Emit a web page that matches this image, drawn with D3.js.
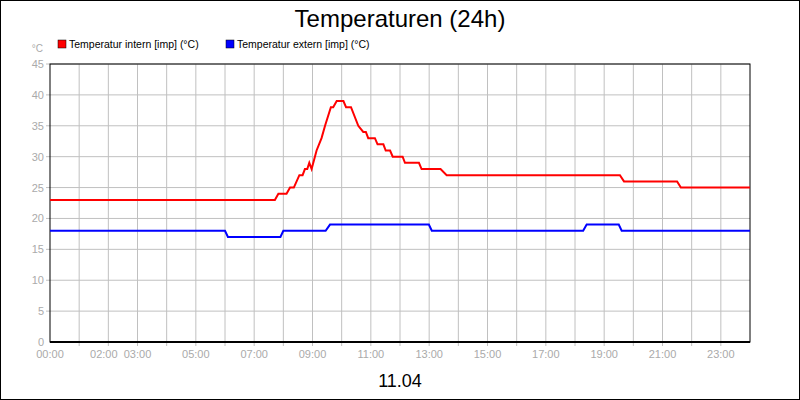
<!DOCTYPE html>
<html><head><meta charset="utf-8">
<script src="https://cdn.jsdelivr.net/npm/d3@7"></script>
<style>body{margin:0;background:#fff}svg{display:block;font-family:"Liberation Sans",Arial,sans-serif}</style>
</head><body><div id="chart"></div>
<script>
// time in decimal hours, values in °C
const internTimes = [0, 7.71, 7.83, 8.11, 8.23, 8.36, 8.55, 8.66, 8.74, 8.82, 8.89, 8.97, 9.14, 9.31, 9.43, 9.63, 9.71, 9.83, 10.06, 10.15, 10.32, 10.57, 10.74, 10.83, 10.91, 11.14, 11.23, 11.43, 11.51, 11.66, 11.75, 12.09, 12.17, 12.65, 12.74, 13.39, 13.6, 19.54, 19.68, 21.5, 21.63, 24];
const internValues = [23, 23, 24, 24, 25, 25, 27, 27, 28, 28, 29, 28, 31, 33, 35, 38, 38, 39, 39, 38, 38, 35, 34, 34, 33, 33, 32, 32, 31, 31, 30, 30, 29, 29, 28, 28, 27, 27, 26, 26, 25, 25];
const externTimes = [0, 6.0, 6.1, 7.9, 8.0, 9.45, 9.6, 12.99, 13.09, 18.28, 18.4, 19.5, 19.6, 24];
const externValues = [18, 18, 17, 17, 18, 18, 19, 19, 18, 18, 19, 19, 18, 18];
const xTickHours = [0, 2, 3, 5, 7, 9, 11, 13, 15, 17, 19, 21, 23];
const xTickLabels = ["00:00", "02:00", "03:00", "05:00", "07:00", "09:00", "11:00", "13:00", "15:00", "17:00", "19:00", "21:00", "23:00"];
const yTicks = [0, 5, 10, 15, 20, 25, 30, 35, 40, 45];

const width = 800, height = 400;
const x = d3.scaleLinear().domain([0, 24]).range([50, 750]);
const y = d3.scaleLinear().domain([0, 45]).range([342, 64]);

const svg = d3.select('#chart').append('svg').attr('width', width).attr('height', height);
svg.append('rect').attr('x', 0.5).attr('y', 0.5).attr('width', width - 1).attr('height', height - 1)
   .attr('fill', '#fff').attr('stroke', '#000');

svg.append('text').attr('x', 400).attr('y', 27).attr('text-anchor', 'middle')
   .attr('font-size', 24).text('Temperaturen (24h)');

// grid
const grid = svg.append('g').attr('stroke', '#c0c0c0');
grid.selectAll('.v').data(d3.range(1, 24)).join('line')
    .attr('x1', d => x(d)).attr('x2', d => x(d)).attr('y1', y(45)).attr('y2', y(0) + 4);
grid.selectAll('.h').data(yTicks.slice(1)).join('line')
    .attr('x1', x(0) - 4).attr('x2', x(24)).attr('y1', d => y(d)).attr('y2', d => y(d));

// y labels
svg.append('g').attr('font-size', 11).attr('fill', '#aaa').attr('text-anchor', 'end')
   .selectAll('text').data(yTicks).join('text')
   .attr('x', x(0) - 6).attr('y', d => y(d) + 4).text(d => d);
svg.append('text').attr('x', 43).attr('y', 52).attr('font-size', 10).attr('fill', '#aaa')
   .attr('text-anchor', 'end').text('°C');

// x labels
svg.append('g').attr('font-size', 11).attr('fill', '#aaa').attr('text-anchor', 'middle')
   .selectAll('text').data(xTickHours).join('text')
   .attr('x', (d, i) => x(d) - (d === 2 ? 4.5 : 0)).attr('y', 358).text((d, i) => xTickLabels[i]);

svg.append('rect').attr('x', x(0)).attr('y', y(45)).attr('width', x(24) - x(0)).attr('height', y(0) - y(45))
   .attr('fill', 'none').attr('stroke', '#000');
svg.append('line').attr('x1', x(0)).attr('x2', x(24)).attr('y1', y(0)).attr('y2', y(0))
   .attr('stroke', '#000').attr('stroke-width', 2);

const line = d3.line().x(d => x(d[0])).y(d => y(d[1]));
svg.append('path').datum(d3.zip(externTimes, externValues)).attr('d', line)
   .attr('fill', 'none').attr('stroke', '#0000ff').attr('stroke-width', 2);
svg.append('path').datum(d3.zip(internTimes, internValues)).attr('d', line)
   .attr('fill', 'none').attr('stroke', '#ff0000').attr('stroke-width', 2);

// legend
const legend = [['Temperatur intern [imp] (°C)', '#ff0000', 58], ['Temperatur extern [imp] (°C)', '#0000ff', 226]];
const lg = svg.append('g').selectAll('g').data(legend).join('g');
lg.append('rect').attr('x', d => d[2]).attr('y', 40).attr('width', 8).attr('height', 8)
  .attr('fill', d => d[1]).attr('stroke', '#000').attr('stroke-width', 0.5);
lg.append('text').attr('x', d => d[2] + 11).attr('y', 48).attr('font-size', 10.5).text(d => d[0]);

svg.append('text').attr('x', 400).attr('y', 387).attr('text-anchor', 'middle')
   .attr('font-size', 18).text('11.04');
</script></body></html>
